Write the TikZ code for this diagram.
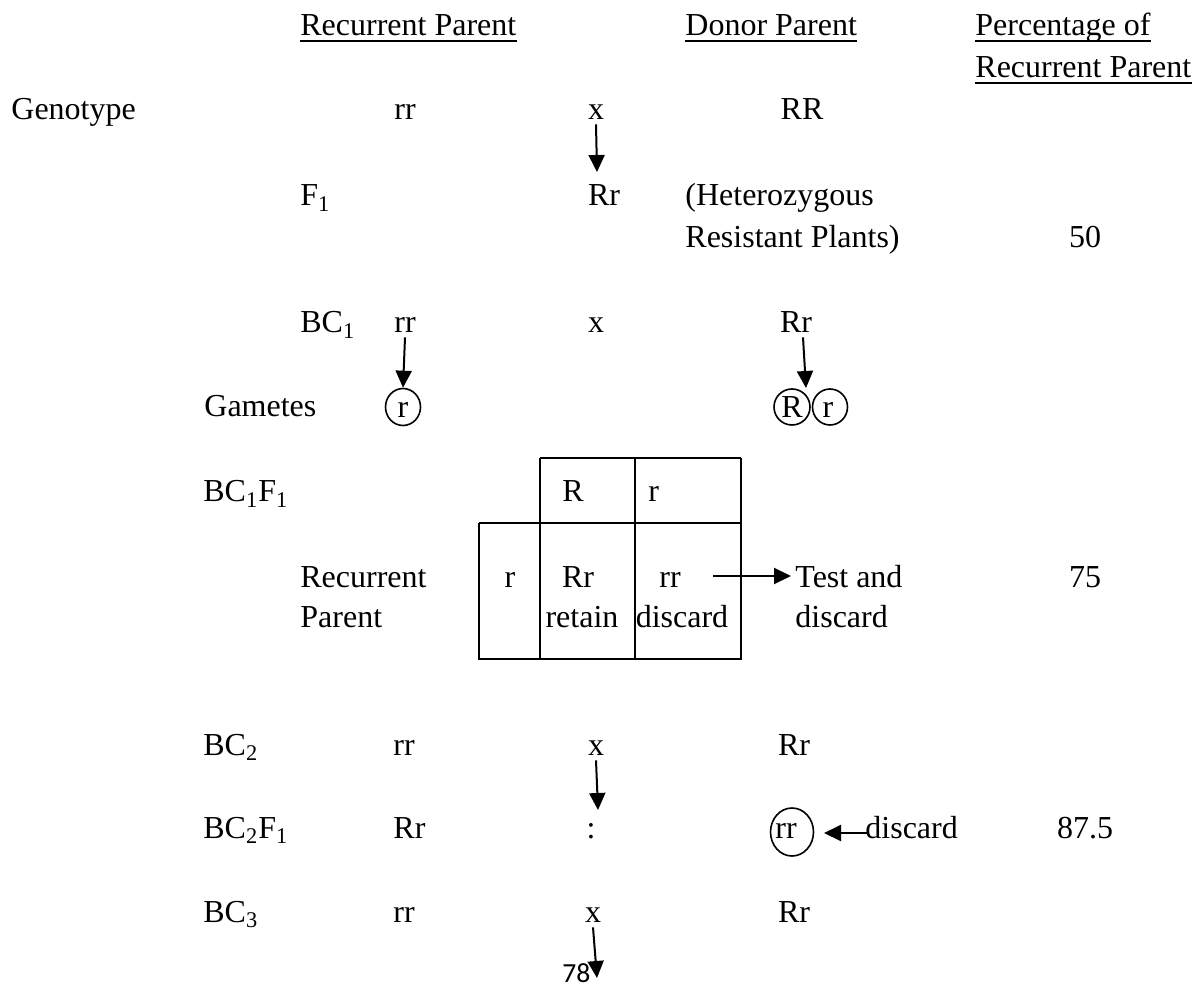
\documentclass[tikz,border=0pt]{standalone}
\usepackage{fontspec}
\setmainfont{Liberation Serif}
\newfontfamily\pagenumfont{Carlito}
\usetikzlibrary{arrows.meta,shapes.geometric}
\begin{document}
\begin{tikzpicture}[x=0.5pt,y=-0.5pt,
  txt/.style={inner sep=0pt, font=\fontsize{16}{19}\selectfont},
  lt/.style={txt, anchor=base west},
  ct/.style={txt, anchor=base},
  arr/.style={-{Triangle[length=8.5pt,width=8pt]}, line width=1pt},
  uline/.style={line width=1pt},
  grid/.style={line width=0.9pt},
  ring/.style={draw, ellipse, line width=0.8pt, inner sep=0pt}]
\useasboundingbox (0,0) rectangle (1203,988);

% headers
\node[lt] (h1) at (300,36) {Recurrent Parent};
\node[lt] (h2) at (685,36) {Donor Parent};
\node[lt] (h3) at (975,36) {Percentage of};
\node[lt] (h4) at (975,78) {Recurrent Parent};
\foreach \n in {h1,h2,h3,h4}
  \draw[uline] ([yshift=-2.5pt]\n.base west) -- ([yshift=-2.5pt]\n.base east);

% genotype row
\node[lt] (geno) at (11,120) {Genotype};
\node[ct] (grr) at (405,120) {rr};
\node[ct] (gx) at (596,120) {x};
\node[ct] (gRR) at (802,120) {RR};
\coordinate (a1e) at (597,172);
\draw[arr] ([yshift=-2pt]gx.south) -- (a1e);

% F1 row
\node[lt] (f1) at (300,206) {F\textsubscript{1}};
\node[ct] (f1rr) at (604,206) {Rr};
\node[lt] (het) at (685,206) {(Heterozygous};
\node[lt] (res) at (685,248) {Resistant Plants)};
\node[ct] (p50) at (1085,248) {50};

% BC1 row
\node[lt] (bc1) at (300,333) {BC\textsubscript{1}};
\node[ct] (b1rr) at (405,333) {rr};
\node[ct] (b1x) at (596,333) {x};
\node[ct] (b1Rr) at (796,333) {Rr};

% gametes
\node[lt] (gamlab) at (204,417) {Gametes};
\node[ring, minimum width=17.5pt, minimum height=18.5pt] (g1) at (403,407) {};
\node[ring, minimum width=18pt, minimum height=18pt] (g2) at (792,407) {};
\node[ring, minimum width=17.5pt, minimum height=18pt] (g3) at (830,407) {};
\node[ct] (g1t) at (403,418) {r};
\node[ct] (g2t) at (792,418) {R};
\node[ct] (g3t) at (828,418) {r};
\draw[arr] ([yshift=-2pt]b1rr.south) -- (g1.north);
\coordinate (a4e) at (806,388);
\draw[arr] ([xshift=3.5pt,yshift=-2pt]b1Rr.south) -- (a4e);

% BC1F1 and table
\node[lt] (bc1f1) at (203,502) {BC\textsubscript{1}F\textsubscript{1}};
\draw[grid] (540,458) -- (741,458);
\draw[grid] (479,523) -- (741,523);
\draw[grid] (479,659) -- (741,659);
\draw[grid] (479,523) -- (479,660);
\draw[grid] (540,458) -- (540,660);
\draw[grid] (635,458) -- (635,660);
\draw[grid] (741,458) -- (741,660);
\node[ct] (tR) at (573,502) {R};
\node[lt] (tr) at (648,502) {r};
\node[ct] (tl) at (510,587) {r};
\node[ct] (tRr) at (578,587) {Rr};
\node[ct] (tret) at (582,627) {retain};
\node[ct] (trr) at (670,587) {rr};
\node[ct] (tdis) at (682,627) {discard};
\node[lt] (recp1) at (300,587) {Recurrent};
\node[lt] (recp2) at (300,627) {Parent};
\node[lt] (test1) at (795,587) {Test and};
\node[lt] (test2) at (795,627) {discard};
\node[ct] (p75) at (1085,587) {75};
\coordinate (ts) at (713,576);
\coordinate (te) at (791,576);
\draw[arr] (ts) -- (te);

% BC2
\node[lt] (bc2) at (203,755) {BC\textsubscript{2}};
\node[ct] (b2rr) at (404,755) {rr};
\node[ct] (b2x) at (596,755) {x};
\node[ct] (b2Rr) at (794,755) {Rr};
\coordinate (a2e) at (598,810);
\draw[arr] ([yshift=-2.5pt]b2x.south) -- (a2e);

% BC2F1
\node[lt] (bc2f1) at (203,838) {BC\textsubscript{2}F\textsubscript{1}};
\node[lt] (b2f1Rr) at (393,838) {Rr};
\node[ct] (colon) at (591,838) {:};
\node[ring, minimum width=21.5pt, minimum height=24pt] (crr) at (792,832) {};
\node[ct] (crrt) at (786,838) {rr};
\node[lt] (disc) at (865,838) {discard};
\node[ct] (p875) at (1085,838) {87.5};
\coordinate (dtip) at (824,833);
\draw[arr] ([xshift=1pt]disc.west |- dtip) -- (dtip);

% BC3
\node[lt] (bc3) at (203,922) {BC\textsubscript{3}};
\node[ct] (b3rr) at (404,922) {rr};
\node[ct] (b3x) at (593,922) {x};
\node[ct] (b3Rr) at (794,922) {Rr};
\coordinate (a3e) at (597,978);
\draw[arr] ([yshift=-2.5pt]b3x.south) -- (a3e);
\node[anchor=base west, inner sep=0pt, font=\pagenumfont\fontsize{13.8}{16}\selectfont] (pg) at (562,982) {78};
\end{tikzpicture}
\end{document}
